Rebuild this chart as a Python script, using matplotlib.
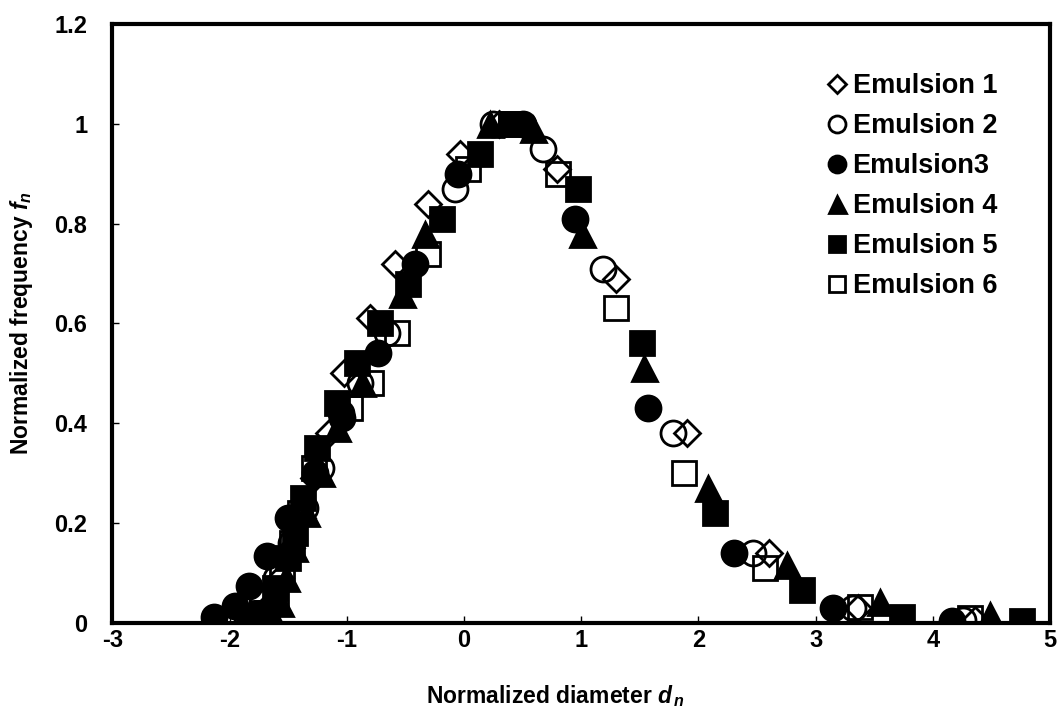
import numpy as np
import matplotlib
matplotlib.use("Agg")
import matplotlib.pyplot as plt

plt.rcParams['font.family'] = ['Liberation Sans', 'DejaVu Sans']
plt.rcParams['font.weight'] = 'bold'
plt.rcParams['axes.unicode_minus'] = False
plt.rcParams['mathtext.fontset'] = 'custom'
plt.rcParams['mathtext.it'] = 'Liberation Sans:italic:bold'
plt.rcParams['mathtext.rm'] = 'Liberation Sans:bold'

# normalized diameter / normalized frequency for each emulsion
e1_x = [-1.75, -1.65, -1.57, -1.48, -1.38, -1.28, -1.15, -1.02, -0.80, -0.59, -0.31, -0.03, 0.30, 0.79, 1.30, 1.90, 2.60, 3.36, 4.36]
e1_y = [0.01, 0.04, 0.09, 0.15, 0.21, 0.29, 0.38, 0.50, 0.61, 0.72, 0.84, 0.94, 1.00, 0.91, 0.69, 0.38, 0.14, 0.03, 0.006]

e2_x = [-1.85, -1.72, -1.60, -1.48, -1.36, -1.22, -1.05, -0.89, -0.66, -0.08, 0.25, 0.67, 1.19, 1.78, 2.47, 3.32, 4.26]
e2_y = [0.01, 0.04, 0.09, 0.16, 0.23, 0.31, 0.42, 0.48, 0.58, 0.87, 1.00, 0.95, 0.71, 0.38, 0.14, 0.03, 0.005]

e3_x = [-2.13, -1.95, -1.83, -1.68, -1.50, -1.27, -1.04, -0.73, -0.42, -0.05, 0.50, 0.95, 1.57, 2.30, 3.15, 4.16]
e3_y = [0.012, 0.035, 0.075, 0.135, 0.21, 0.30, 0.41, 0.54, 0.72, 0.90, 1.00, 0.81, 0.43, 0.14, 0.03, 0.004]

e4_x = [-1.62, -1.57, -1.52, -1.45, -1.35, -1.22, -1.08, -0.87, -0.53, -0.33, 0.22, 0.59, 1.01, 1.54, 2.08, 2.76, 3.55, 4.49]
e4_y = [0.005, 0.04, 0.09, 0.15, 0.22, 0.30, 0.39, 0.48, 0.66, 0.78, 1.00, 0.99, 0.78, 0.51, 0.27, 0.116, 0.042, 0.016]

e5_x = [-1.83, -1.72, -1.61, -1.50, -1.44, -1.37, -1.25, -1.08, -0.91, -0.72, -0.48, -0.19, 0.14, 0.40, 0.97, 1.52, 2.14, 2.88, 3.74, 4.76]
e5_y = [0.005, 0.02, 0.07, 0.13, 0.18, 0.25, 0.35, 0.44, 0.52, 0.60, 0.68, 0.81, 0.94, 1.00, 0.87, 0.56, 0.22, 0.066, 0.012, 0.004]

e6_x = [-1.78, -1.68, -1.60, -1.55, -1.47, -1.40, -1.28, -0.97, -0.79, -0.57, -0.31, 0.03, 0.40, 0.80, 1.30, 1.88, 2.57, 3.38, 4.32]
e6_y = [0.003, 0.02, 0.05, 0.10, 0.16, 0.22, 0.31, 0.43, 0.48, 0.58, 0.74, 0.91, 1.00, 0.90, 0.63, 0.30, 0.11, 0.032, 0.01]

labels = ["Emulsion 1", "Emulsion 2", "Emulsion3", "Emulsion 4", "Emulsion 5", "Emulsion 6"]

fig = plt.figure(figsize=(10.6, 7.25), dpi=100)
ax = fig.add_axes([0.106, 0.1407, 0.8846, 0.8263])

mew = 2.0
ax.plot(e1_x, e1_y, 'D', ms=13, mfc='none', mec='black', mew=mew, label=labels[0])
ax.plot(e2_x, e2_y, 'o', ms=18, mfc='none', mec='black', mew=mew, label=labels[1])
ax.plot(e3_x, e3_y, 'o', ms=18, mfc='black', mec='black', mew=mew, label=labels[2])
ax.plot(e4_x, e4_y, '^', ms=18, mfc='black', mec='black', mew=mew, label=labels[3])
ax.plot(e5_x, e5_y, 's', ms=17, mfc='black', mec='black', mew=mew, label=labels[4])
ax.plot(e6_x, e6_y, 's', ms=17, mfc='none', mec='black', mew=mew, label=labels[5])

ax.set_xlim(-3, 5)
ax.set_ylim(0, 1.2)
ax.set_xticks(np.arange(-3, 6, 1))
ax.set_yticks([0, 0.2, 0.4, 0.6, 0.8, 1.0, 1.2])
ax.set_yticklabels(["0", "0.2", "0.4", "0.6", "0.8", "1", "1.2"])
for s in ax.spines.values():
    s.set_linewidth(3)
ax.tick_params(axis='both', direction='in', length=5, width=1, labelsize=17)
ax.tick_params(axis='x', pad=4)
ax.tick_params(axis='y', pad=18)

ax.set_xlabel(r"Normalized diameter $d_{\,n}$", fontsize=16.5, fontweight='bold')
ax.set_ylabel(r"Normalized frequency $f_n$", fontsize=16.5, fontweight='bold')
ax.xaxis.set_label_coords(0.473, -0.101)
ax.yaxis.set_label_coords(-0.083, 0.5)

leg = ax.legend(loc='upper left', bbox_to_anchor=(0.764, 0.918), frameon=False,
                fontsize=19.5, markerscale=0.68, handlelength=0.6, handletextpad=0.28,
                labelspacing=0.52, borderaxespad=0, borderpad=0)

fig.savefig("out.png", dpi=100)
